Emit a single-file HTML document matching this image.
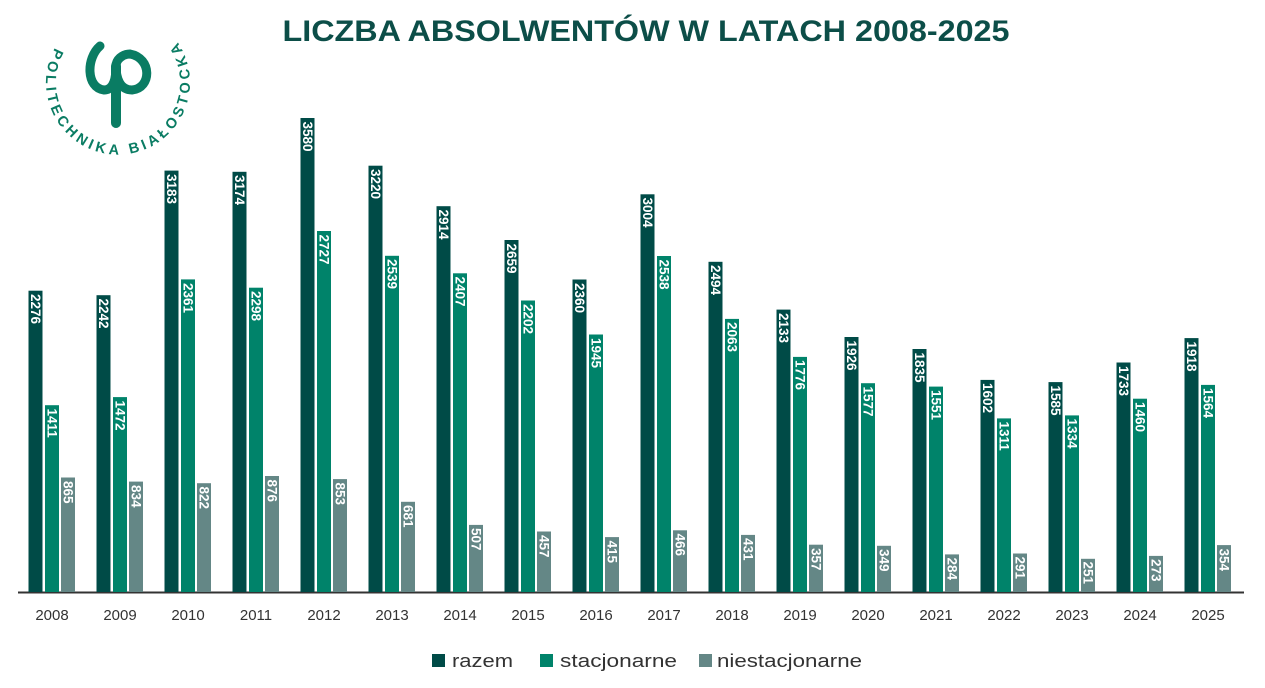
<!DOCTYPE html>
<html><head><meta charset="utf-8"><style>
html,body{margin:0;padding:0;background:#fff;}
svg{display:block;font-family:"Liberation Sans",sans-serif;}
.r{fill:#004b47}.s{fill:#00836a}.n{fill:#648786}
.v{fill:#fff;font-weight:bold;font-size:13.5px}
.y{fill:#333;font-size:15px;text-anchor:middle}
</style></head><body>
<svg width="1265" height="688" viewBox="0 0 1265 688">
<text x="646" y="41" text-anchor="middle" font-size="30" font-weight="bold" fill="#0c4e48" textLength="727" lengthAdjust="spacingAndGlyphs">LICZBA ABSOLWENTÓW W LATACH 2008-2025</text>
<defs><path id="arc" d="M56,46 A72,72 0 1,0 180,46"/></defs>
<text font-size="14.5" font-weight="bold" fill="#0a7c63"><textPath href="#arc" textLength="305" lengthAdjust="spacing" startOffset="2">POLITECHNIKA BIAŁOSTOCKA</textPath></text>
<g fill="none" stroke="#0a7c63" stroke-width="9" stroke-linecap="round">
<path d="M100,46 C86,58 86,88 104,90 C114,90 116,78 116,66 C116,78 120,90 132,90 C152,88 152,58 130,54 C122,54 116,60 116,66"/>
<path d="M116,66 L116,123" stroke-width="10"/>
</g>
<line x1="18" y1="592.5" x2="1244" y2="592.5" stroke="#333" stroke-width="2"/>
<g id="bars">
<g transform="translate(28.5,0)"><rect class="r" x="0" y="290.7" width="14" height="301.3"/><rect class="s" x="16.5" y="405.2" width="14" height="186.8"/><rect class="n" x="32.5" y="477.5" width="14" height="114.5"/><text class="v" transform="translate(2.5,294) rotate(90)">2276</text><text class="v" transform="translate(19,408.5) rotate(90)">1411</text><text class="v" transform="translate(35,481) rotate(90)">865</text><text class="y" x="23.5" y="620">2008</text></g>
<g transform="translate(96.5,0)"><rect class="r" x="0" y="295.2" width="14" height="296.8"/><rect class="s" x="16.5" y="397.1" width="14" height="194.9"/><rect class="n" x="32.5" y="481.6" width="14" height="110.4"/><text class="v" transform="translate(2.5,298.5) rotate(90)">2242</text><text class="v" transform="translate(19,400.5) rotate(90)">1472</text><text class="v" transform="translate(35,485) rotate(90)">834</text><text class="y" x="23.5" y="620">2009</text></g>
<g transform="translate(164.5,0)"><rect class="r" x="0" y="170.6" width="14" height="421.4"/><rect class="s" x="16.5" y="279.4" width="14" height="312.6"/><rect class="n" x="32.5" y="483.2" width="14" height="108.8"/><text class="v" transform="translate(2.5,174) rotate(90)">3183</text><text class="v" transform="translate(19,283) rotate(90)">2361</text><text class="v" transform="translate(35,486.5) rotate(90)">822</text><text class="y" x="23.5" y="620">2010</text></g>
<g transform="translate(232.5,0)"><rect class="r" x="0" y="171.8" width="14" height="420.2"/><rect class="s" x="16.5" y="287.7" width="14" height="304.3"/><rect class="n" x="32.5" y="476" width="14" height="116"/><text class="v" transform="translate(2.5,175) rotate(90)">3174</text><text class="v" transform="translate(19,291) rotate(90)">2298</text><text class="v" transform="translate(35,479.5) rotate(90)">876</text><text class="y" x="23.5" y="620">2011</text></g>
<g transform="translate(300.5,0)"><rect class="r" x="0" y="118" width="14" height="474"/><rect class="s" x="16.5" y="231" width="14" height="361"/><rect class="n" x="32.5" y="479.1" width="14" height="112.9"/><text class="v" transform="translate(2.5,121.5) rotate(90)">3580</text><text class="v" transform="translate(19,234.5) rotate(90)">2727</text><text class="v" transform="translate(35,482.5) rotate(90)">853</text><text class="y" x="23.5" y="620">2012</text></g>
<g transform="translate(368.5,0)"><rect class="r" x="0" y="165.7" width="14" height="426.3"/><rect class="s" x="16.5" y="255.8" width="14" height="336.2"/><rect class="n" x="32.5" y="501.8" width="14" height="90.2"/><text class="v" transform="translate(2.5,169) rotate(90)">3220</text><text class="v" transform="translate(19,259) rotate(90)">2539</text><text class="v" transform="translate(35,505) rotate(90)">681</text><text class="y" x="23.5" y="620">2013</text></g>
<g transform="translate(436.5,0)"><rect class="r" x="0" y="206.2" width="14" height="385.8"/><rect class="s" x="16.5" y="273.3" width="14" height="318.7"/><rect class="n" x="32.5" y="524.9" width="14" height="67.1"/><text class="v" transform="translate(2.5,209.5) rotate(90)">2914</text><text class="v" transform="translate(19,276.5) rotate(90)">2407</text><text class="v" transform="translate(35,528) rotate(90)">507</text><text class="y" x="23.5" y="620">2014</text></g>
<g transform="translate(504.5,0)"><rect class="r" x="0" y="240" width="14" height="352"/><rect class="s" x="16.5" y="300.5" width="14" height="291.5"/><rect class="n" x="32.5" y="531.5" width="14" height="60.5"/><text class="v" transform="translate(2.5,243.5) rotate(90)">2659</text><text class="v" transform="translate(19,304) rotate(90)">2202</text><text class="v" transform="translate(35,535) rotate(90)">457</text><text class="y" x="23.5" y="620">2015</text></g>
<g transform="translate(572.5,0)"><rect class="r" x="0" y="279.5" width="14" height="312.5"/><rect class="s" x="16.5" y="334.5" width="14" height="257.5"/><rect class="n" x="32.5" y="537.1" width="14" height="54.9"/><text class="v" transform="translate(2.5,283) rotate(90)">2360</text><text class="v" transform="translate(19,338) rotate(90)">1945</text><text class="v" transform="translate(35,540.5) rotate(90)">415</text><text class="y" x="23.5" y="620">2016</text></g>
<g transform="translate(640.5,0)"><rect class="r" x="0" y="194.3" width="14" height="397.7"/><rect class="s" x="16.5" y="256" width="14" height="336"/><rect class="n" x="32.5" y="530.3" width="14" height="61.7"/><text class="v" transform="translate(2.5,197.5) rotate(90)">3004</text><text class="v" transform="translate(19,259.5) rotate(90)">2538</text><text class="v" transform="translate(35,533.5) rotate(90)">466</text><text class="y" x="23.5" y="620">2017</text></g>
<g transform="translate(708.5,0)"><rect class="r" x="0" y="261.8" width="14" height="330.2"/><rect class="s" x="16.5" y="318.9" width="14" height="273.1"/><rect class="n" x="32.5" y="534.9" width="14" height="57.1"/><text class="v" transform="translate(2.5,265) rotate(90)">2494</text><text class="v" transform="translate(19,322) rotate(90)">2063</text><text class="v" transform="translate(35,538) rotate(90)">431</text><text class="y" x="23.5" y="620">2018</text></g>
<g transform="translate(776.5,0)"><rect class="r" x="0" y="309.6" width="14" height="282.4"/><rect class="s" x="16.5" y="356.9" width="14" height="235.1"/><rect class="n" x="32.5" y="544.7" width="14" height="47.3"/><text class="v" transform="translate(2.5,313) rotate(90)">2133</text><text class="v" transform="translate(19,360) rotate(90)">1776</text><text class="v" transform="translate(35,548) rotate(90)">357</text><text class="y" x="23.5" y="620">2019</text></g>
<g transform="translate(844.5,0)"><rect class="r" x="0" y="337" width="14" height="255"/><rect class="s" x="16.5" y="383.2" width="14" height="208.8"/><rect class="n" x="32.5" y="545.8" width="14" height="46.2"/><text class="v" transform="translate(2.5,340.5) rotate(90)">1926</text><text class="v" transform="translate(19,386.5) rotate(90)">1577</text><text class="v" transform="translate(35,549) rotate(90)">349</text><text class="y" x="23.5" y="620">2020</text></g>
<g transform="translate(912.5,0)"><rect class="r" x="0" y="349" width="14" height="243"/><rect class="s" x="16.5" y="386.6" width="14" height="205.4"/><rect class="n" x="32.5" y="554.4" width="14" height="37.6"/><text class="v" transform="translate(2.5,352.5) rotate(90)">1835</text><text class="v" transform="translate(19,390) rotate(90)">1551</text><text class="v" transform="translate(35,557.5) rotate(90)">284</text><text class="y" x="23.5" y="620">2021</text></g>
<g transform="translate(980.5,0)"><rect class="r" x="0" y="379.9" width="14" height="212.1"/><rect class="s" x="16.5" y="418.4" width="14" height="173.6"/><rect class="n" x="32.5" y="553.5" width="14" height="38.5"/><text class="v" transform="translate(2.5,383) rotate(90)">1602</text><text class="v" transform="translate(19,421.5) rotate(90)">1311</text><text class="v" transform="translate(35,556.5) rotate(90)">291</text><text class="y" x="23.5" y="620">2022</text></g>
<g transform="translate(1048.5,0)"><rect class="r" x="0" y="382.1" width="14" height="209.9"/><rect class="s" x="16.5" y="415.4" width="14" height="176.6"/><rect class="n" x="32.5" y="558.8" width="14" height="33.2"/><text class="v" transform="translate(2.5,385.5) rotate(90)">1585</text><text class="v" transform="translate(19,418.5) rotate(90)">1334</text><text class="v" transform="translate(35,561.5) rotate(90)">251</text><text class="y" x="23.5" y="620">2023</text></g>
<g transform="translate(1116.5,0)"><rect class="r" x="0" y="362.5" width="14" height="229.5"/><rect class="s" x="16.5" y="398.7" width="14" height="193.3"/><rect class="n" x="32.5" y="555.9" width="14" height="36.1"/><text class="v" transform="translate(2.5,366) rotate(90)">1733</text><text class="v" transform="translate(19,402) rotate(90)">1460</text><text class="v" transform="translate(35,559) rotate(90)">273</text><text class="y" x="23.5" y="620">2024</text></g>
<g transform="translate(1184.5,0)"><rect class="r" x="0" y="338.1" width="14" height="253.9"/><rect class="s" x="16.5" y="384.9" width="14" height="207.1"/><rect class="n" x="32.5" y="545.1" width="14" height="46.9"/><text class="v" transform="translate(2.5,341.5) rotate(90)">1918</text><text class="v" transform="translate(19,388) rotate(90)">1564</text><text class="v" transform="translate(35,548.5) rotate(90)">354</text><text class="y" x="23.5" y="620">2025</text></g>
</g>
<rect class="r" x="432" y="654" width="13" height="13"/>
<text x="452" y="667" font-size="18" fill="#333" textLength="61" lengthAdjust="spacingAndGlyphs">razem</text>
<rect class="s" x="540" y="654" width="13" height="13"/>
<text x="560" y="667" font-size="18" fill="#333" textLength="117" lengthAdjust="spacingAndGlyphs">stacjonarne</text>
<rect class="n" x="699" y="654" width="13" height="13"/>
<text x="717" y="667" font-size="18" fill="#333" textLength="145" lengthAdjust="spacingAndGlyphs">niestacjonarne</text>
</svg>
</body></html>
